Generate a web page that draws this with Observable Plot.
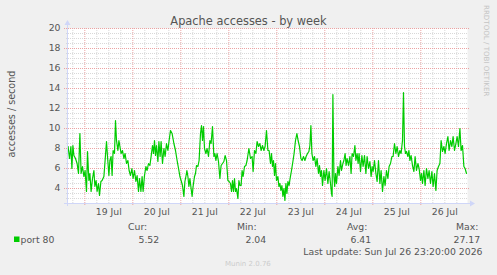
<!DOCTYPE html>
<html>
<head>
<meta charset="utf-8">
<script src="https://cdn.jsdelivr.net/npm/d3@7"></script>
<script src="https://cdn.jsdelivr.net/npm/@observablehq/plot@0.6"></script>
<style>
  html, body { margin: 0; padding: 0; background: #F0F0F0; }
  #chart svg { display: block; }
</style>
</head>
<body>
<div id="chart"></div>
<script>
// ---- data ----
const title = "Apache accesses - by week";
const yLabel = "accesses / second";
const seriesName = "port 80";
const yTicks = [4, 6, 8, 10, 12, 14, 16, 18, 20];
const dayLabels = ["19 Jul", "20 Jul", "21 Jul", "22 Jul", "23 Jul", "24 Jul", "25 Jul", "26 Jul"];
const statLabels = ["Cur:", "Min:", "Avg:", "Max:"];
const statValues = ["5.52", "2.04", "6.41", "27.17"];
const lastUpdate = "Last update: Sun Jul 26 23:20:00 2026";
const credit = "RRDTOOL / TOBI OETIKER";
const footer = "Munin 2.0.76";
// hours since 2026-07-18 15:20 UTC
const hoursFromStart = [
  0,0.3,1.0,1.7,2.2,2.7,3.2,4.0,4.8,5.5,6.2,6.8,7.5,8.2,8.8,9.5,10.0,10.7,11.2,11.8,
  12.5,13.2,13.7,14.3,14.8,15.5,16.0,16.7,17.3,18.2,18.8,19.5,20.0,20.7,21.2,21.8,22.3,22.8,23.5,24.0,
  24.5,25.2,25.7,26.2,26.8,27.5,28.2,28.8,29.5,30.2,30.8,31.5,32.2,32.8,33.5,34.2,34.8,35.5,36.0,36.7,
  37.3,37.8,38.5,39.2,39.8,40.5,41.2,41.8,42.5,43.0,43.5,44.0,44.5,45.2,45.7,46.3,46.8,47.5,48.2,48.8,
  49.5,50.2,50.8,51.5,52.3,53.2,54.0,54.8,55.7,56.2,56.8,57.5,58.2,58.7,59.2,59.7,60.2,60.7,61.2,61.8,
  62.3,62.8,63.5,64.0,64.5,65.2,65.8,66.5,67.0,67.5,68.0,68.5,69.2,69.8,70.5,71.2,71.8,72.5,73.2,73.7,
  74.2,74.8,75.5,76.2,76.8,77.5,78.2,78.8,79.5,80.2,80.8,81.5,82.0,82.5,83.0,83.5,84.0,84.5,85.2,85.7,
  86.2,86.8,87.3,87.8,88.5,89.2,89.8,90.7,
  91.5,92.3,92.8,93.5,94.2,94.8,95.5,96.2,96.8,97.5,98.2,98.8,99.5,100.2,100.8,101.5,102.0,102.5,103.0,103.5,
  104.0,104.5,105.2,105.7,106.2,106.7,107.2,107.7,108.2,108.7,109.2,109.7,110.2,110.8,111.3,112.0,112.7,113.3,114.0,114.7,
  115.3,116.0,116.7,117.3,118.0,118.7,119.3,120.0,120.7,121.2,121.7,122.2,122.8,123.5,124.2,124.8,125.5,126.0,126.5,127.0,
  127.5,128.2,128.8,129.5,130.2,130.8,131.5,132.0,132.3,132.7,133.2,133.6,134.0,134.5,135.2,135.8,136.5,137.0,137.7,138.2,
  138.8,139.3,139.8,140.5,141.2,141.8,142.3,143.0,143.7,144.2,144.8,145.3,145.8,146.5,147.2,147.8,148.5,149.2,149.8,150.5,
  151.2,151.8,152.3,152.8,153.5,154.2,154.8,155.5,156.2,156.8,157.5,158.2,158.8,159.5,160.2,160.8,161.5,162.2,162.8,163.5,
  164.2,164.8,165.5,166.2,166.8,167.5,168.0,168.5,169.0,169.5,170.2,170.7,171.2,171.8,172.5,173.2,173.8,174.5,175.2,175.8,
  176.5,177.0,177.5,178.2,178.8,179.5,180.2,180.8,181.5,182.2,182.8,183.5,184.2,184.8,185.5,186.2,186.8,187.5,188.2,188.8,
  189.5,190.2,190.8,191.5,192.2,192.8,193.5,194.2,194.8,195.5,196.2,196.8,197.5,198.2,198.8,199.5
];
const accesses = [
  8.0,8.2,7.0,8.2,6.0,8.3,7.3,7.0,6.5,5.5,9.5,5.5,6.2,5.2,5.8,3.7,7.7,4.8,5.5,3.7,
  5.0,5.8,4.2,4.8,3.7,4.5,3.3,4.7,4.8,5.2,6.8,8.7,7.2,5.3,6.8,7.2,5.3,7.8,7.5,10.8,
  8.8,7.8,8.8,8.2,7.5,7.8,7.0,7.5,6.5,6.8,5.8,5.3,6.0,5.0,5.8,4.7,5.3,3.7,5.0,3.7,
  5.2,3.7,5.3,6.2,5.8,6.5,6.3,7.2,8.3,7.5,8.8,7.3,8.3,6.7,8.7,7.2,8.7,6.5,8.0,7.2,
  8.5,7.8,8.8,9.8,9.5,8.5,7.8,6.8,5.8,5.2,4.8,4.3,3.2,4.7,5.2,5.8,5.2,4.2,5.0,4.0,
  3.2,4.2,5.2,5.5,6.3,6.2,6.8,9.5,10.3,8.8,10.2,8.0,7.5,8.0,7.2,8.8,8.5,10.2,7.2,7.5,
  6.8,7.5,6.7,5.0,6.3,6.5,6.7,7.3,6.8,4.8,4.7,4.5,3.7,4.8,3.7,5.0,3.7,4.0,3.0,4.8,
  4.3,4.3,5.8,5.2,6.2,6.3,6.8,8.0,
  7.0,7.2,5.7,7.8,7.5,8.7,8.2,8.5,7.8,8.3,7.8,8.2,9.8,7.8,7.8,6.5,7.5,6.2,6.8,5.3,
  6.5,4.8,5.2,4.2,4.5,3.8,4.3,3.2,4.0,2.8,4.5,3.5,4.7,4.3,5.0,5.8,6.7,7.5,8.8,9.5,
  8.8,8.2,7.0,6.8,7.2,6.8,7.2,7.5,7.7,8.3,10.3,7.5,6.8,7.2,6.2,7.0,5.5,6.3,5.2,5.8,
  4.3,5.8,4.8,6.0,4.5,5.7,4.5,3.5,3.2,13.4,5.2,4.2,5.5,4.5,6.2,5.3,6.8,5.8,6.5,6.8,
  7.5,6.3,7.0,6.3,7.2,5.5,7.5,7.2,8.3,6.8,7.5,6.5,7.5,5.7,7.3,6.2,7.3,5.5,7.2,6.0,
  6.7,5.2,6.2,5.7,6.8,5.5,4.7,6.8,4.5,5.8,3.7,5.2,4.3,5.8,5.0,6.2,6.5,7.2,7.2,8.5,
  7.5,8.2,7.2,7.8,7.5,8.8,13.6,8.2,7.5,7.7,7.2,7.8,6.8,7.3,6.3,5.7,7.2,5.8,6.5,6.0,
  4.8,5.5,4.5,5.8,4.3,6.0,5.0,5.8,4.5,5.7,4.2,5.5,3.8,5.8,6.2,6.5,8.8,7.7,8.2,7.5,
  8.5,9.2,7.8,8.8,8.2,9.2,7.8,8.5,9.2,8.2,10.0,7.8,8.3,6.2,6.0,5.5
];

// ---- build ----
const start = Date.UTC(2026, 6, 18, 15, 20);
const HOUR = 3600e3;
const end = start + 200 * HOUR;
const data = hoursFromStart.map((h, i) => ({t: new Date(start + h * HOUR), v: accesses[i]}));
const dayNoons = dayLabels.map((_, i) => new Date(Date.UTC(2026, 6, 19 + i, 12)));
const dayLines = d3.utcDay.range(new Date(start), new Date(end));
const sixHourLines = d3.utcHour.every(6).range(new Date(start), new Date(end)).filter(d => d.getUTCHours() !== 0);
const minorY = d3.range(3, 20, 0.5).filter(v => !yTicks.includes(v));

const W = 497, H = 275;
const mL = 67, mR = 30, mT = 28, mB = 72;
const FONT = "DejaVu Sans";
const TXT = "#555";
const GREEN = "#00CC00";
const AXIS = "#CFD6F8";
const MGRID = "#EBA3A3";
const GRID = "#D8D8D8";

const plot = Plot.plot({
  width: W, height: H,
  marginLeft: mL, marginRight: mR, marginTop: mT, marginBottom: mB,
  style: {background: "#F0F0F0", fontFamily: FONT, fontSize: "9.3px", color: TXT},
  x: {type: "utc", domain: [new Date(start), new Date(end)]},
  y: {domain: [2.5, 20]},
  marks: [
    Plot.frame({fill: "#FFFFFF", stroke: "none"}),
    Plot.ruleY(minorY, {stroke: GRID, strokeDasharray: "1,1", strokeWidth: 1, insetLeft: -1, insetRight: -1}),
    Plot.ruleX(sixHourLines, {stroke: GRID, strokeDasharray: "1,1", strokeWidth: 1, insetBottom: -1}),
    Plot.ruleY(yTicks, {stroke: MGRID, strokeDasharray: "1,1", strokeWidth: 1, insetLeft: -3, insetRight: -3}),
    Plot.ruleX(dayLines, {stroke: MGRID, strokeDasharray: "1,1", strokeWidth: 1, insetBottom: -3}),
    Plot.line(data, {x: "t", y: "v", stroke: GREEN, strokeWidth: 1.2}),
    Plot.axisY({ticks: yTicks, tickSize: 0, tickPadding: 7, fontSize: 9.3, fill: TXT, label: null}),
    Plot.axisX({ticks: dayNoons, tickFormat: (d, i) => dayLabels[i], tickSize: 0, tickPadding: 5, fontSize: 9.3, fill: TXT, label: null})
  ]
});

document.getElementById("chart").appendChild(plot);
const svg = d3.select(plot);

// axis lines + arrows
const bottom = H - mB, right = W - mR;
svg.append("line").attr("x1", mL + 0.5).attr("x2", mL + 0.5).attr("y1", bottom + 3).attr("y2", mT - 4)
  .attr("stroke", AXIS).attr("stroke-width", 1);
svg.append("line").attr("x1", mL - 3).attr("x2", right + 4).attr("y1", bottom + 0.5).attr("y2", bottom + 0.5)
  .attr("stroke", AXIS).attr("stroke-width", 1);
svg.append("path").attr("d", `M${mL - 2.5},${mT - 3} L${mL + 3.5},${mT - 3} L${mL + 0.5},${mT - 8} Z`).attr("fill", AXIS);
svg.append("path").attr("d", `M${right + 3},${bottom - 2.5} L${right + 3},${bottom + 3.5} L${right + 8},${bottom + 0.5} Z`).attr("fill", AXIS);

function txt(s, x, y, opts = {}) {
  const t = svg.append("text").attr("x", x).attr("y", y).text(s)
    .attr("font-family", FONT).attr("font-size", opts.size || 9.3)
    .attr("fill", opts.fill || TXT).attr("text-anchor", opts.anchor || "start");
  if (opts.transform) t.attr("transform", opts.transform).attr("x", 0).attr("y", 0);
  return t;
}

txt(title, W / 2, 25, {size: 11.4, anchor: "middle"});
txt(yLabel, 0, 0, {size: 9.6, anchor: "middle", transform: `translate(14.5,114) rotate(-90)`});
txt(credit, 0, 0, {size: 7.1, fill: "#C4C4C4", transform: `translate(483.5,5) rotate(90)`});

// legend
svg.append("rect").attr("x", 14).attr("y", 236.5).attr("width", 5.5).attr("height", 5.5).attr("fill", GREEN);
txt(seriesName, 20.5, 243);
const labelX = [128, 237, 347, 456];
const valueX = [138.5, 245.5, 350.5, 453.5];
statLabels.forEach((s, i) => txt(s, labelX[i], 230));
statValues.forEach((s, i) => txt(s, valueX[i], 243));
txt(lastUpdate, 482.5, 254.5, {anchor: "end"});
txt(footer, 225, 266, {size: 7, fill: "#CCCCCC"});
</script>
</body>
</html>
